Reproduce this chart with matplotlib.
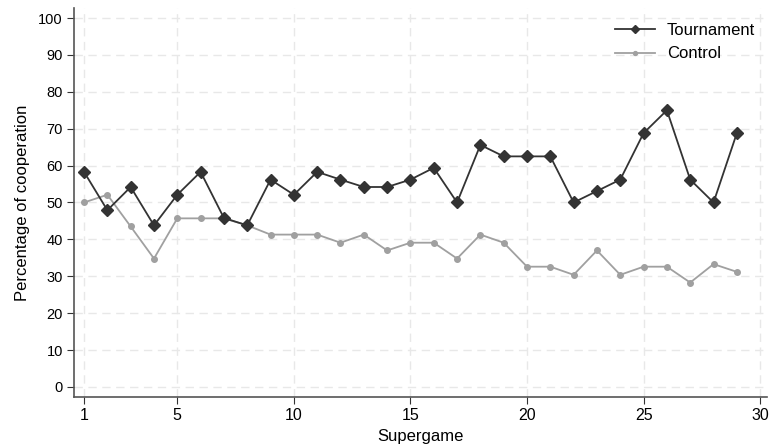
import matplotlib
matplotlib.use('Agg')
import matplotlib.pyplot as plt

# Supergame index
supergame = list(range(1, 30))

# Percentage of cooperation per treatment
tournament = [58.3, 47.9, 54.2, 43.8, 52.1, 58.3, 45.8, 43.8, 56.2, 52.1,
              58.3, 56.2, 54.2, 54.2, 56.2, 59.4, 50.0, 65.6, 62.5, 62.5,
              62.5, 50.0, 53.1, 56.2, 68.8, 75.0, 56.2, 50.0, 68.8]
control = [50.0, 52.1, 43.5, 34.8, 45.7, 45.7, 45.7, 43.8, 41.3, 41.3,
           41.3, 39.1, 41.3, 37.0, 39.1, 39.1, 34.8, 41.3, 39.1, 32.6,
           32.6, 30.4, 37.0, 30.4, 32.6, 32.6, 28.3, 33.3, 31.2]

xticks = [1, 5, 10, 15, 20, 25, 30]
yticks = list(range(0, 101, 10))

plt.rcParams['font.family'] = ['Liberation Sans', 'DejaVu Sans']

fig = plt.figure(figsize=(7.71, 4.48), dpi=100)
ax = fig.add_axes([0.096, 0.114, 0.899, 0.868])

ax.plot(supergame, tournament, color='#333333', lw=1.3, marker='D',
        markersize=6.5, label='Tournament', zorder=3)
ax.plot(supergame, control, color='#a0a0a0', lw=1.3, marker='o',
        markersize=4, label='Control', zorder=2)

ax.set_xlim(0.57, 30.3)
ax.set_ylim(-2.7, 102.7)
ax.set_xticks(xticks)
ax.set_yticks(yticks)
ax.tick_params(axis='x', labelsize=11.5, color='#333333', length=5, pad=3)
ax.tick_params(axis='y', labelsize=10.5, color='#333333', length=5, pad=3)
ax.grid(True, color='#e8e8e8', linestyle=(0, (6, 4)), lw=1)
ax.set_axisbelow(True)

for side in ['top', 'right']:
    ax.spines[side].set_visible(False)
for side in ['left', 'bottom']:
    ax.spines[side].set_color('#555555')
    ax.spines[side].set_linewidth(1.2)

ax.set_xlabel('Supergame', fontsize=12, labelpad=4)
ax.set_ylabel('Percentage of cooperation', fontsize=12, labelpad=6)

ax.legend(loc='upper right', frameon=False, fontsize=12,
          handlelength=2.4, handletextpad=0.7, labelspacing=0.5,
          markerscale=0.7, bbox_to_anchor=(1.004, 1.0))

fig.savefig('out.png', dpi=100)
